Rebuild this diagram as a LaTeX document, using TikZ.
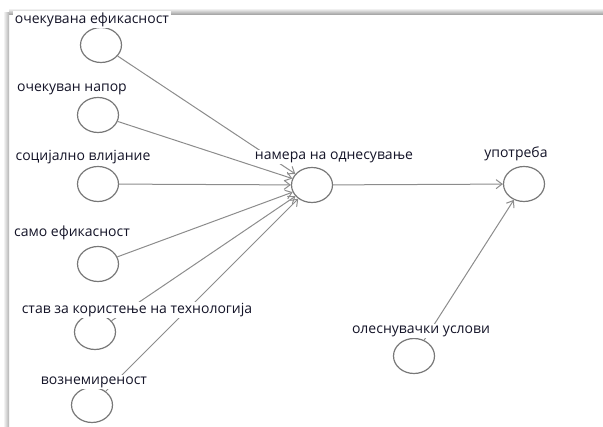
\documentclass[tikz,border=0pt]{standalone}
\usepackage{fontspec}
\setmainfont{Open Sans}
\usetikzlibrary{shapes.geometric,arrows.meta}
\definecolor{ringgray}{RGB}{120,120,120}
\definecolor{linegray}{RGB}{140,140,140}
\definecolor{textnavy}{RGB}{20,20,40}

\begin{document}
\begin{tikzpicture}[x=1pt,y=-1pt,
    construct/.style={ellipse,draw=ringgray,line width=1.2pt,minimum width=41pt,minimum height=35pt,inner sep=0pt},
    link/.style={draw=linegray,line width=1pt,-{Straight Barb[length=6pt,width=9pt]}},
    lbl/.style={fill=white,text=textnavy,font=\fontsize{14}{16}\selectfont,inner sep=1.5pt}
]
\useasboundingbox (0,0) rectangle (603,427);
% frame shadow
\shade[top color=white,bottom color=black!40] (9,8) rectangle (603,15);
\shade[left color=white,right color=black!30] (3,13) rectangle (9,427);

% constructs
\node[construct] (eff) at (101,45) {};
\node[construct] (effort) at (98,115) {};
\node[construct] (social) at (98,184) {};
\node[construct] (selfeff) at (98,264) {};
\node[construct] (attit) at (95,332) {};
\node[construct] (anx) at (92,405) {};
\node[construct] (intent) at (312,185) {};
\node[construct] (usage) at (524,184) {};
\node[construct] (facil) at (414,356) {};

% paths
\foreach \n in {eff,effort,social,selfeff,attit,anx}
    \draw[link] (\n) -- (intent);
\draw[link] (intent) -- (usage);
\draw[link] (facil) -- (usage);

% labels
\node[lbl] (effL) at (92,20) {очекувана ефикасност};
\node[lbl] (effortL) at (72,89) {очекуван напор};
\node[lbl] (socialL) at (83,157) {социјално влијание};
\node[lbl] (selfeffL) at (72,233) {само ефикасност};
\node[lbl] (attitL) at (137,310) {став за користење на технологија};
\node[lbl] (anxL) at (94,382) {вознемиреност};
\node[lbl] (intentL) at (334,157) {намера на однесување};
\node[lbl] (usageL) at (516,154) {употреба};
\node[lbl] (facilL) at (421,331) {олеснувачки услови};
\end{tikzpicture}
\end{document}
